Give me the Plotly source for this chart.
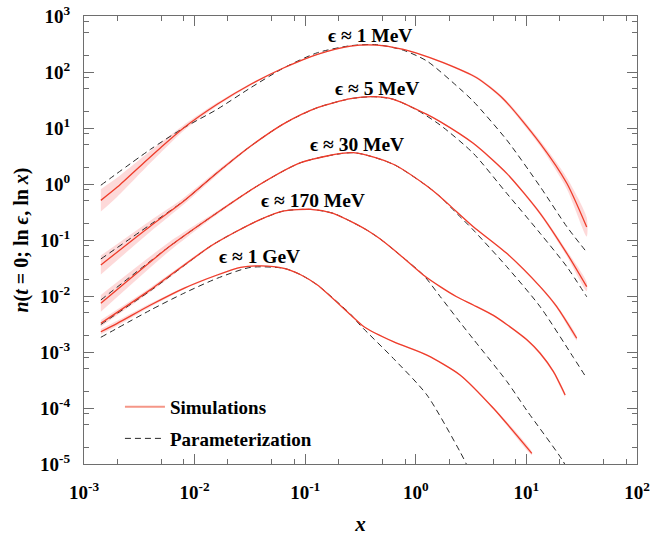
import numpy as np
import plotly.graph_objects as go

# ---------------- data ----------------
# Simulated spectra (red, with uncertainty band in dex) and parameterization (dashed)

sim_1mev_x = [1.42e-3, 2.0e-3, 3.48e-3, 4.93e-3, 8.0e-3, 0.016, 0.0322, 0.0643, 0.129, 0.258, 0.443, 0.771, 1.0, 1.77, 3.55, 6.19, 13.3, 23.2, 35.1]
sim_1mev_y = [0.51, 0.88, 2.4, 4.45, 10.1, 26.5, 60.3, 119, 207, 291, 303, 254, 220, 147, 79, 33, 5.33, 1.03, 0.17]
sim_1mev_err = [0.2, 0.17, 0.12, 0.09, 0.05, 0.03, 0.02, 0.015, 0.012, 0.012, 0.012, 0.012, 0.012, 0.015, 0.02, 0.03, 0.05, 0.1, 0.17]
par_1mev_x = [1.42e-3, 4.0e-3, 8.0e-3, 0.016, 0.0322, 0.0643, 0.129, 0.258, 0.443, 0.771, 1.26, 2.51, 3.31, 6.64, 13.3, 23.2, 33.9]
par_1mev_y = [0.95, 4.17, 10.1, 21.6, 52.5, 119, 221, 295, 308, 245, 157, 50, 30, 6.11, 0.9, 0.173, 0.066]

sim_5mev_x = [1.42e-3, 4.0e-3, 8.0e-3, 0.016, 0.0322, 0.0643, 0.129, 0.258, 0.413, 0.626, 1.26, 1.66, 3.31, 6.64, 13.3, 23.2, 35.1]
sim_5mev_y = [0.0358, 0.178, 0.497, 1.59, 4.77, 12.0, 23.1, 33.4, 36.2, 32.6, 17.5, 13.0, 5.33, 1.55, 0.30, 0.0578, 0.0147]
sim_5mev_err = [0.17, 0.1, 0.06, 0.04, 0.02, 0.015, 0.012, 0.01, 0.01, 0.01, 0.01, 0.01, 0.015, 0.02, 0.03, 0.05, 0.08]
par_5mev_x = [1.42e-3, 4.0e-3, 8.0e-3, 0.016, 0.0322, 0.0643, 0.129, 0.258, 0.413, 0.626, 1.0, 1.66, 3.31, 6.64, 13.3, 23.2, 35.1]
par_5mev_y = [0.0458, 0.19, 0.5, 1.59, 4.77, 12.0, 23.1, 33.4, 36.2, 32.6, 21.5, 11.3, 3.53, 0.682, 0.132, 0.0334, 0.0097]

sim_30mev_x = [1.42e-3, 6.0e-3, 0.016, 0.0369, 0.091, 0.272, 0.626, 1.26, 1.66, 2.34, 3.31, 6.64, 13.3, 18.8, 28.5]
sim_30mev_y = [0.0074, 0.078, 0.307, 0.921, 2.40, 3.62, 2.25, 0.921, 0.593, 0.320, 0.173, 0.0578, 0.0147, 0.00645, 0.00176]
sim_30mev_err = [0.15, 0.08, 0.03, 0.015, 0.01, 0.01, 0.01, 0.01, 0.01, 0.01, 0.012, 0.015, 0.02, 0.03, 0.04]
par_30mev_x = [1.42e-3, 6.0e-3, 0.016, 0.0369, 0.091, 0.272, 0.626, 1.26, 1.66, 2.34, 3.31, 6.64, 13.3, 26.6, 35.1]
par_30mev_y = [0.0085, 0.078, 0.307, 0.921, 2.40, 3.62, 2.25, 0.921, 0.593, 0.300, 0.151, 0.0334, 0.00645, 0.0008, 0.000339]

sim_170mev_x = [1.42e-3, 4.0e-3, 0.014, 0.0227, 0.0396, 0.0643, 0.112, 0.179, 0.258, 0.36, 0.474, 0.72, 1.17, 1.66, 2.34, 3.31, 5.03, 6.64, 10.1, 13.3, 17.5, 22.4]
sim_170mev_y = [0.00325, 0.013, 0.078, 0.135, 0.234, 0.33, 0.353, 0.30, 0.215, 0.151, 0.105, 0.054, 0.0237, 0.0147, 0.0097, 0.0069, 0.0045, 0.0031, 0.00165, 0.00095, 0.00045, 0.000171]
sim_170mev_err = [0.06, 0.04, 0.02, 0.015, 0.01, 0.01, 0.01, 0.01, 0.01, 0.01, 0.01, 0.01, 0.01, 0.01, 0.01, 0.012, 0.015, 0.015, 0.02, 0.025, 0.03, 0.03]
par_170mev_x = [1.42e-3, 4.0e-3, 0.014, 0.0227, 0.0396, 0.0643, 0.112, 0.179, 0.258, 0.36, 0.474, 0.72, 1.17, 1.66, 2.51, 3.31, 6.64, 10.1, 21.6, 24.0]
par_170mev_y = [0.0031, 0.0125, 0.078, 0.135, 0.234, 0.33, 0.353, 0.30, 0.215, 0.151, 0.105, 0.054, 0.0237, 0.0098, 0.0034, 0.0017, 0.0003, 9.0e-5, 1.1e-5, 7e-6]

sim_1gev_x = [1.42e-3, 2.0e-3, 4.0e-3, 8.0e-3, 0.016, 0.0261, 0.0396, 0.0643, 0.091, 0.129, 0.258, 0.34, 0.626, 1.26, 2.51, 5.03, 11.2]
sim_1gev_y = [0.0023, 0.00325, 0.0069, 0.0137, 0.0237, 0.0325, 0.0344, 0.0312, 0.024, 0.0157, 0.00458, 0.00283, 0.00153, 0.00088, 0.00039, 9.9e-5, 1.55e-5]
sim_1gev_err = [0.05, 0.045, 0.03, 0.02, 0.015, 0.01, 0.01, 0.01, 0.01, 0.01, 0.01, 0.01, 0.01, 0.012, 0.015, 0.02, 0.03]
par_1gev_x = [1.42e-3, 4.0e-3, 8.0e-3, 0.016, 0.0322, 0.0643, 0.091, 0.129, 0.258, 0.313, 0.626, 1.26, 2.51, 2.89, 3.3]
par_1gev_y = [0.00183, 0.00562, 0.0112, 0.0207, 0.0325, 0.0312, 0.024, 0.0157, 0.0047, 0.00303, 0.00077, 0.000171, 1.66e-5, 9.6e-6, 5e-6]

curve_labels = ["ϵ ≈ 1 MeV", "ϵ ≈ 5 MeV", "ϵ ≈ 30 MeV", "ϵ ≈ 170 MeV", "ϵ ≈ 1 GeV"]
# label anchor points (log10 x, log10 y)
label_lx = [-0.414, -0.354, -0.534, -0.927, -1.409]
label_ly = [2.66, 1.709, 0.714, -0.286, -1.286]

x_ticks = [1e-3, 1e-2, 1e-1, 1e0, 1e1, 1e2]
x_ticktext = ["10<sup>-3</sup>", "10<sup>-2</sup>", "10<sup>-1</sup>", "10<sup>0</sup>", "10<sup>1</sup>", "10<sup>2</sup>"]
y_ticks = [1e-5, 1e-4, 1e-3, 1e-2, 1e-1, 1e0, 1e1, 1e2, 1e3]
y_ticktext = ["10<sup>-5</sup>", "10<sup>-4</sup>", "10<sup>-3</sup>", "10<sup>-2</sup>", "10<sup>-1</sup>",
              "10<sup>0</sup>", "10<sup>1</sup>", "10<sup>2</sup>", "10<sup>3</sup>"]

# ---------------- styling ----------------
RED = "rgb(238,60,42)"
BAND = "rgba(250,130,130,0.30)"
DASH = "rgb(40,40,40)"
FONT = "Liberation Serif, DejaVu Serif, serif"
AXIS = "rgb(110,110,110)"
SMOOTH = 0.7

fig = go.Figure()

sims = [(sim_1mev_x, sim_1mev_y, sim_1mev_err), (sim_5mev_x, sim_5mev_y, sim_5mev_err),
        (sim_30mev_x, sim_30mev_y, sim_30mev_err), (sim_170mev_x, sim_170mev_y, sim_170mev_err),
        (sim_1gev_x, sim_1gev_y, sim_1gev_err)]
pars = [(par_1mev_x, par_1mev_y), (par_5mev_x, par_5mev_y), (par_30mev_x, par_30mev_y),
        (par_170mev_x, par_170mev_y), (par_1gev_x, par_1gev_y)]

for xs, ys, es in sims:
    x = np.array(xs); y = np.array(ys); e = np.array(es)
    upper = y * 10 ** e
    lower = y / 10 ** e
    fig.add_trace(go.Scatter(
        x=np.concatenate([x, x[::-1]]), y=np.concatenate([upper, lower[::-1]]),
        fill="toself", fillcolor=BAND, line=dict(width=0, shape="spline", smoothing=SMOOTH),
        mode="lines", hoverinfo="skip", showlegend=False))

for xs, ys in pars:
    fig.add_trace(go.Scatter(x=xs, y=ys, mode="lines", showlegend=False,
                             line=dict(color=DASH, width=1, dash="6px,4px", shape="spline", smoothing=SMOOTH)))

for xs, ys, es in sims:
    fig.add_trace(go.Scatter(x=xs, y=ys, mode="lines", showlegend=False,
                             line=dict(color=RED, width=1.3, shape="spline", smoothing=SMOOTH)))

# legend entries
fig.add_trace(go.Scatter(x=[None], y=[None], mode="lines", name="Simulations",
                         line=dict(color="rgb(245,150,135)", width=2), legendgroup="a"))
fig.add_trace(go.Scatter(x=[None], y=[None], mode="lines", name="Parameterization",
                         line=dict(color=DASH, width=1, dash="6px,4px"), legendgroup="b"))

for txt, lx, ly in zip(curve_labels, label_lx, label_ly):
    fig.add_annotation(x=lx, y=ly, xref="x", yref="y", text=txt, showarrow=False,
                       font=dict(family=FONT, size=19.5, color="black", weight="bold"))

minor_x = [m * 10.0 ** p for p in range(-3, 2) for m in (2, 5, 8)]
minor_y = [m * 10.0 ** p for p in range(-5, 3) for m in (2, 5, 8)]

axis_common = dict(type="log", showline=True, linecolor=AXIS, linewidth=1.2, mirror="ticks",
                   ticks="inside", ticklen=10, tickcolor=AXIS, tickwidth=1,
                   showgrid=False, zeroline=False, tickmode="array",
                   tickfont=dict(family=FONT, size=19, color="black", weight="bold"))

fig.update_xaxes(range=[-3, 2], tickvals=x_ticks, ticktext=x_ticktext, ticklabelstandoff=11,
                 minor=dict(tickmode="array", tickvals=minor_x, ticks="inside", ticklen=5,
                            tickcolor=AXIS, showgrid=False),
                 title=dict(text="<i>x</i>", font=dict(family=FONT, size=21, color="black", weight="bold"),
                            standoff=14),
                 **axis_common)
fig.update_yaxes(range=[-5, 3], tickvals=y_ticks, ticktext=y_ticktext, ticklabelstandoff=9,
                 minor=dict(tickmode="array", tickvals=minor_y, ticks="inside", ticklen=5,
                            tickcolor=AXIS, showgrid=False),
                 title=dict(text="<i>n</i>(<i>t</i> = 0; ln <i>ϵ</i>, ln <i>x</i>)",
                            font=dict(family=FONT, size=20, color="black", weight="bold"),
                            standoff=6),
                 **axis_common)

fig.update_layout(
    width=653, height=539,
    margin=dict(l=84, r=16, t=16, b=75, autoexpand=False),
    paper_bgcolor="white", plot_bgcolor="white",
    showlegend=True,
    legend=dict(x=0.065, y=0.17, xanchor="left", yanchor="top", bgcolor="rgba(0,0,0,0)",
                font=dict(family=FONT, size=19, color="black", weight="bold"),
                tracegroupgap=4, traceorder="grouped", itemwidth=40),
)

fig.write_html("out.html")
